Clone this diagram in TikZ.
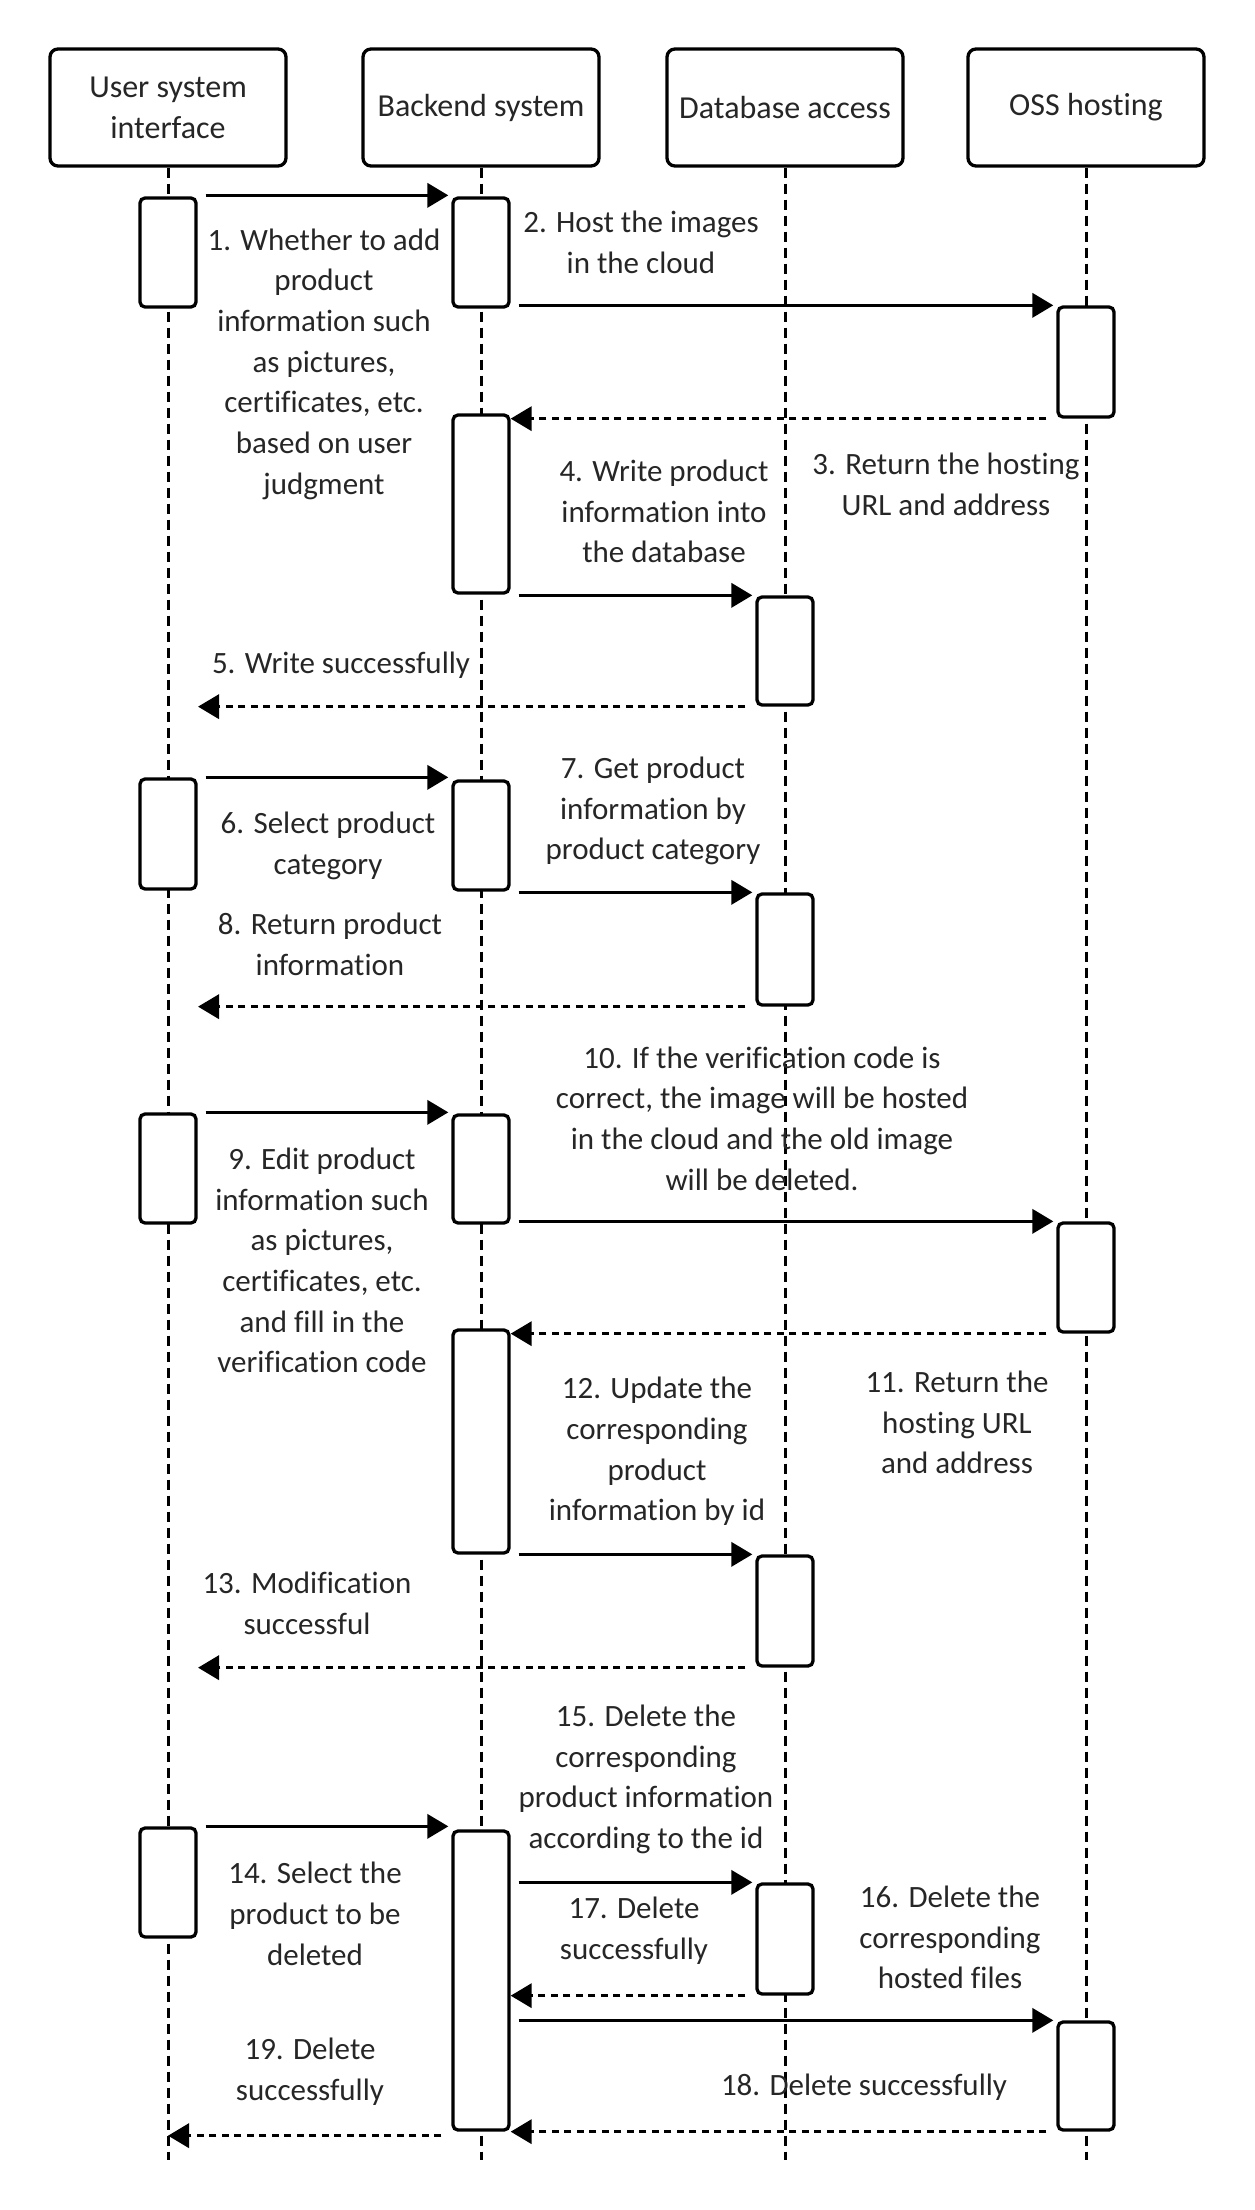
\documentclass[tikz,border=0pt]{standalone}
\usepackage{fontspec}
\setmainfont{Carlito}[Ligatures=NoCommon]
\usetikzlibrary{arrows.meta,calc}
\definecolor{txt}{HTML}{262626}
\begin{document}
\begin{tikzpicture}[x=1pt,y=-1pt,
  actor/.style={draw, line width=3.3pt, rounded corners=8pt, fill=white,
    minimum width=236pt, minimum height=117pt, align=center, inner sep=0pt,
    font=\fontsize{32}{41}\selectfont, text=txt},
  act/.style={draw, line width=3.3pt, rounded corners=5pt, fill=white,
    minimum width=56pt, inner sep=0pt},
  life/.style={line width=3pt, dash pattern=on 10pt off 6pt},
  msg/.style={line width=3.6pt, -{Triangle[length=21pt,width=24pt]},
    shorten <=8pt, shorten >=3pt},
  ret/.style={line width=3.6pt, dash pattern=on 7pt off 5.5pt,
    -{Triangle[length=21pt,width=24pt]}, shorten <=10pt},
  lbl/.style={align=center, inner sep=0pt, text=txt,
    font=\fontsize{31}{40.7}\selectfont}]
\useasboundingbox (0,0) rectangle (1254,2210);

% participants
\node[actor] (U) at (168,107.5) {User system\\interface};
\node[actor] (B) at (481,107.5) {Backend system};
\node[actor] (D) at (785,107.5) {Database access};
\node[actor] (O) at (1086,107.5) {OSS hosting};

% lifelines
\coordinate (bottom) at (0,2160);
\foreach \p in {U,B,D,O}
  \draw[life] (\p.south) -- (\p.south |- bottom);

% activation bars
\node[act, minimum height=109pt] (U1) at (168,252.5) {};
\node[act, minimum height=109pt] (B1) at (481,252.5) {};
\node[act, minimum height=110pt] (O1) at (1086,362) {};
\node[act, minimum height=178pt] (B2) at (481,504) {};
\node[act, minimum height=108pt] (D1) at (785,651) {};
\node[act, minimum height=110pt] (U2) at (168,834) {};
\node[act, minimum height=109pt] (B3) at (481,835.5) {};
\node[act, minimum height=111pt] (D2) at (785,949.5) {};
\node[act, minimum height=109pt] (U3) at (168,1168.5) {};
\node[act, minimum height=108pt] (B4) at (481,1169) {};
\node[act, minimum height=109pt] (O2) at (1086,1277.5) {};
\node[act, minimum height=223pt] (B5) at (481,1441.5) {};
\node[act, minimum height=110pt] (D3) at (785,1611) {};
\node[act, minimum height=109pt] (U4) at (168,1882.5) {};
\node[act, minimum height=299pt] (B6) at (481,1980.5) {};
\node[act, minimum height=110pt] (D4) at (785,1939) {};
\node[act, minimum height=108pt] (O3) at (1086,2076) {};

% messages
\draw[msg] ($(U1.north east)+(0,-1)$) -- ($(B1.north west)+(0,-1)$);
\draw[msg] (B1.east |- O1.north west) -- (O1.north west);
\draw[ret] (O1.south west) -- (B2.east |- O1.south west);
\draw[msg] (B2.east |- D1.north west) -- (D1.north west);
\draw[ret] (D1.south west) -- ($(U.south |- D1.south)+(30,0)$);
\draw[msg] (U2.north east) -- (B3.west |- U2.north east);
\draw[msg] (B3.east |- D2.north west) -- (D2.north west);
\draw[ret] (D2.south west) -- ($(U.south |- D2.south)+(30,0)$);
\draw[msg] (U3.north east) -- (B4.west |- U3.north east);
\draw[msg] (B4.east |- O2.north west) -- (O2.north west);
\draw[ret] (O2.south west) -- (B5.east |- O2.south west);
\draw[msg] (B5.east |- D3.north west) -- (D3.north west);
\draw[ret] (D3.south west) -- ($(U.south |- D3.south)+(30,0)$);
\draw[msg] (U4.north east) -- (B6.west |- U4.north east);
\draw[msg] (B6.east |- D4.north west) -- (D4.north west);
\draw[ret] (D4.south west) -- (B6.east |- D4.south west);
\draw[msg] (B6.east |- O3.north west) -- (O3.north west);
\draw[ret] (O3.south west) -- (B6.east |- O3.south west);
\draw[ret] ($(B6.south west)+(0,4)$) -- ($(U.south |- B6.south)+(0,4)$);

% message labels
\node[lbl] (t1) at (324,364) {1. Whether to add\\product\\information such\\as pictures,\\certificates, etc.\\based on user\\judgment};
\node[lbl] (t2) at (641,242.5) {2. Host the images\\in the cloud};
\node[lbl] (t3) at (946,484.5) {3. Return the hosting\\URL and address};
\node[lbl] (t4) at (664,511.5) {4. Write product\\information into\\the database};
\node[lbl] (t5) at (341,665) {5. Write successfully};
\node[lbl] (t6) at (328,846) {6. Select product\\category};
\node[lbl] (t7) at (653,811) {7. Get product\\information by\\product category};
\node[lbl] (t8) at (330,944.5) {8. Return product\\information};
\node[lbl] (t9) at (322,1260.5) {9. Edit product\\information such\\as pictures,\\certificates, etc.\\and fill in the\\verification code};
\node[lbl] (t10) at (762,1118.5) {10. If the verification code is\\correct, the image will be hosted\\in the cloud and the old image\\will be deleted.};
\node[lbl] (t11) at (957,1422.5) {11. Return the\\hosting URL\\and address};
\node[lbl] (t12) at (657,1451.5) {12. Update the\\corresponding\\product\\information by id};
\node[lbl] (t13) at (307,1603.5) {13. Modification\\successful};
\node[lbl] (t14) at (315,1914) {14. Select the\\product to be\\deleted};
\node[lbl] (t15) at (646,1779.5) {15. Delete the\\corresponding\\product information\\according to the id};
\node[lbl] (t16) at (950,1937.5) {16. Delete the\\corresponding\\hosted files};
\node[lbl] (t17) at (634,1931) {17. Delete\\successfully};
\node[lbl] (t18) at (864,2087) {18. Delete successfully};
\node[lbl] (t19) at (310,2071.5) {19. Delete\\successfully};
\end{tikzpicture}
\end{document}
